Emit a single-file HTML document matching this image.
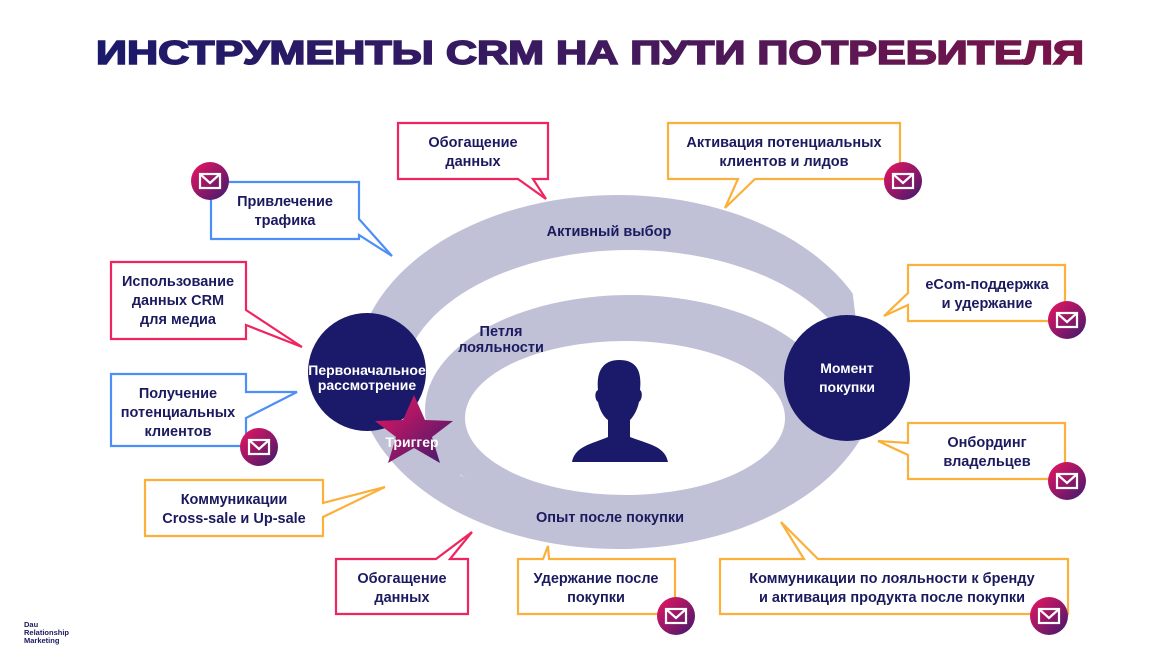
<!DOCTYPE html>
<html><head><meta charset="utf-8"><style>
html,body{margin:0;padding:0;background:#fff;}
svg{display:block;}
text{font-family:"Liberation Sans","DejaVu Sans",sans-serif;font-weight:bold;}
.t{fill:#1b1a5e;font-size:14.5px;text-anchor:middle;}
.w{fill:#fff;font-size:14px;text-anchor:middle;}
.bp{fill:#fff;stroke:#f0245f;stroke-width:2.2;}
.bo{fill:#fff;stroke:#fbb03b;stroke-width:2.2;}
.bb{fill:#fff;stroke:#4d8ef8;stroke-width:2.2;}
</style></head><body>
<svg width="1176" height="662" viewBox="0 0 1176 662" xmlns="http://www.w3.org/2000/svg">
<defs>
<linearGradient id="tg" x1="0" y1="0" x2="1" y2="0">
<stop offset="0" stop-color="#1b1a6a"/><stop offset="0.5" stop-color="#3e1a5e"/><stop offset="1" stop-color="#7a1448"/>
</linearGradient>
<linearGradient id="mg" x1="0" y1="0" x2="1" y2="1">
<stop offset="0" stop-color="#ee1560"/><stop offset="1" stop-color="#3d1a6e"/>
</linearGradient>
<clipPath id="ca"><ellipse cx="618" cy="372" rx="262" ry="177"/></clipPath>
<g id="mail">
<circle r="19" fill="url(#mg)"/>
<rect x="-10" y="-7" width="20" height="14" fill="none" stroke="#fff" stroke-width="2.2"/>
<polyline points="-10,-7 0,2 10,-7" fill="none" stroke="#fff" stroke-width="2.2"/>
</g>
</defs>

<text x="590" y="64" font-size="33" fill="url(#tg)" stroke="url(#tg)" stroke-width="1.6" text-anchor="middle" textLength="988" lengthAdjust="spacingAndGlyphs">ИНСТРУМЕНТЫ CRM НА ПУТИ ПОТРЕБИТЕЛЯ</text>

<!-- rings -->
<ellipse cx="618" cy="372" rx="262" ry="177" fill="#c0c1d6"/>
<ellipse cx="630" cy="385" rx="228" ry="135" fill="#fff"/>
<ellipse cx="630" cy="410" rx="205" ry="115" fill="#c0c1d6"/>
<g clip-path="url(#ca)">
<rect x="790" y="385" width="110" height="180" fill="#c0c1d6"/>
<rect x="350" y="425" width="110" height="140" fill="#c0c1d6"/>
</g>
<ellipse cx="625" cy="418" rx="160" ry="77" fill="#fff"/>
<polygon points="852,288 905,288 905,320 856,320" fill="#fff"/>

<text x="609" y="236" class="t" font-size="13">Активный выбор</text>
<text x="501" y="336" class="t" font-size="13">Петля</text>
<text x="501" y="352" class="t" font-size="13">лояльности</text>
<text x="610" y="522" class="t" font-size="13">Опыт после покупки</text>

<!-- circles -->
<circle cx="367" cy="372" r="59" fill="#1b1a6a"/>
<text x="367" y="375" class="w" font-size="12.5">Первоначальное</text>
<text x="367" y="390" class="w" font-size="12.5">рассмотрение</text>
<circle cx="847" cy="378" r="63" fill="#1b1a6a"/>
<text x="847" y="373" class="w" font-size="15">Момент</text>
<text x="847" y="392" class="w" font-size="15">покупки</text>

<!-- star -->
<polygon points="414,395 425,420 453,421 432,437 440,463 414,448 388,463 396,437 375,421 403,420" fill="url(#mg)"/>
<text x="412" y="447" class="w" font-size="13">Триггер</text>

<!-- person -->
<path d="M598,390 C596,370 604,360 619,360 C636,360 642,370 640,390 C643,392 642,400 639,402 C637,412 632,418 630,420 L630,437 C648,444 665,446 668,462 L572,462 C575,446 592,444 608,437 L608,420 C605,418 600,412 598,402 C595,400 594,392 598,390 Z" fill="#1b1a6a"/>

<!-- boxes -->
<path class="bp" d="M398,123 H548 V179 H533 L546,199 L518,179 H398 Z"/>
<text x="473" y="147" class="t">Обогащение</text><text x="473" y="166" class="t">данных</text>

<path class="bo" d="M668,123 H900 V179 H755 L725,208 L738,179 H668 Z"/>
<text x="784" y="147" class="t">Активация потенциальных</text><text x="784" y="166" class="t">клиентов и лидов</text>
<use href="#mail" x="903" y="181"/>

<path class="bb" d="M211,182 H359 V219 L392,256 L359,235 V239 H211 Z"/>
<text x="285" y="206" class="t">Привлечение</text><text x="285" y="225" class="t">трафика</text>
<use href="#mail" x="210" y="181"/>

<path class="bp" d="M111,262 H246 V310 L302,347 L246,325 V339 H111 Z"/>
<text x="178" y="286" class="t">Использование</text><text x="178" y="305" class="t">данных CRM</text><text x="178" y="324" class="t">для медиа</text>

<path class="bb" d="M111,374 H246 V392 L297,392 L246,418 V446 H111 Z"/>
<text x="178" y="398" class="t">Получение</text><text x="178" y="417" class="t">потенциальных</text><text x="178" y="436" class="t">клиентов</text>
<use href="#mail" x="259" y="447"/>

<path class="bo" d="M145,480 H323 V503 L385,487 L323,517 V536 H145 Z"/>
<text x="234" y="504" class="t">Коммуникации</text><text x="234" y="523" class="t">Cross-sale и Up-sale</text>

<path class="bp" d="M336,559 H436 L472,532 L450,559 H468 V614 H336 Z"/>
<text x="402" y="583" class="t">Обогащение</text><text x="402" y="602" class="t">данных</text>

<path class="bo" d="M518,559 H543 L548,546 L549,559 H675 V614 H518 Z"/>
<text x="596" y="583" class="t">Удержание после</text><text x="596" y="602" class="t">покупки</text>
<use href="#mail" x="676" y="616"/>

<path class="bo" d="M720,559 H804 L781,522 L818,559 H1068 V614 H720 Z"/>
<text x="892" y="583" class="t">Коммуникации по лояльности к бренду</text><text x="892" y="602" class="t">и активация продукта после покупки</text>
<use href="#mail" x="1049" y="616"/>

<path class="bo" d="M908,265 H1065 V321 H908 V305 L884,316 L908,293 Z"/>
<text x="987" y="289" class="t">eCom-поддержка</text><text x="987" y="308" class="t">и удержание</text>
<use href="#mail" x="1067" y="320"/>

<path class="bo" d="M908,423 H1065 V479 H908 V455 L878,441 L908,443 Z"/>
<text x="987" y="447" class="t">Онбординг</text><text x="987" y="466" class="t">владельцев</text>
<use href="#mail" x="1067" y="481"/>

<text x="24" y="627" font-size="7.5" fill="#1b1a5e">Dau</text>
<text x="24" y="635" font-size="7.5" fill="#1b1a5e">Relationship</text>
<text x="24" y="643" font-size="7.5" fill="#1b1a5e">Marketing</text>
</svg>
</body></html>
